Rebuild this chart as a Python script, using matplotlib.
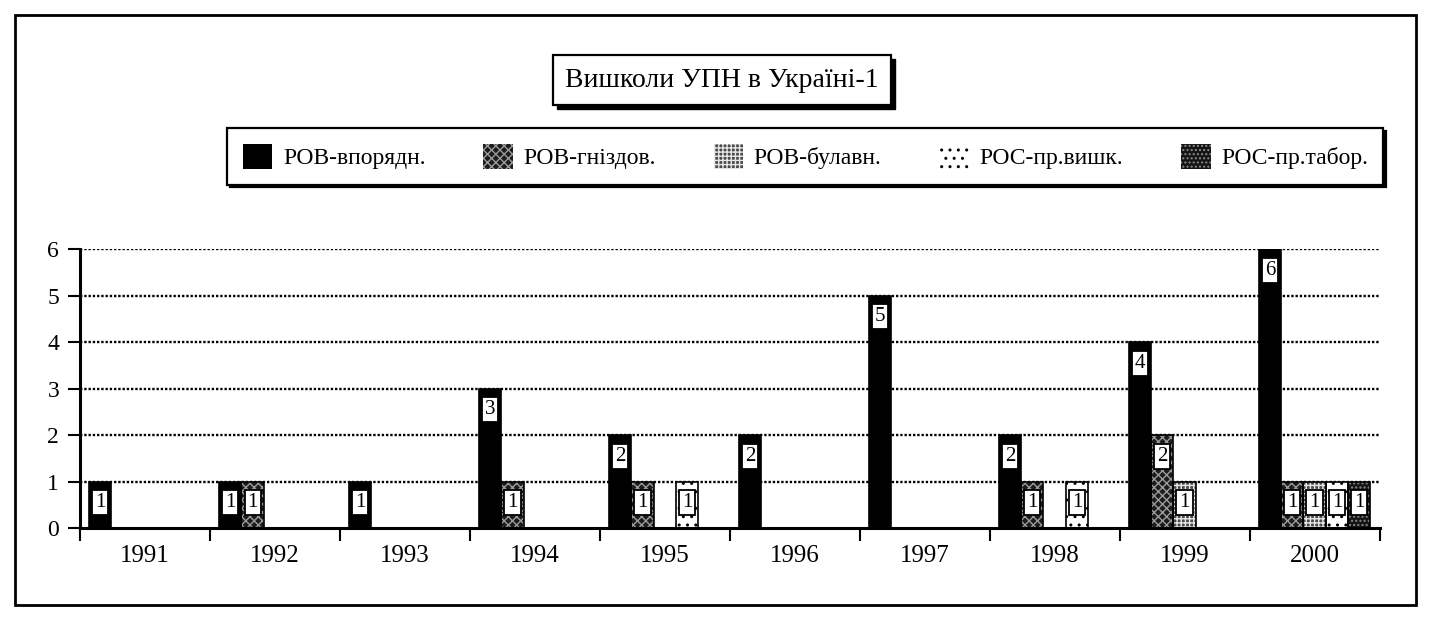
import numpy as np
import matplotlib
matplotlib.use("Agg")
import matplotlib.pyplot as plt
from matplotlib.patches import Rectangle, Patch

plt.rcParams['font.family'] = ['Liberation Serif', 'DejaVu Serif']
plt.rcParams['hatch.linewidth'] = 1.0

years = ["1991", "1992", "1993", "1994", "1995", "1996", "1997", "1998", "1999", "2000"]
series_names = ["РОВ-впорядн.", "РОВ-гніздов.", "РОВ-булавн.", "РОС-пр.вишк.", "РОС-пр.табор."]
vporyadn = [1, 1, 1, 3, 2, 2, 5, 2, 4, 6]
hnizdov = [0, 1, 0, 1, 1, 0, 0, 1, 2, 1]
bulavn = [0, 0, 0, 0, 0, 0, 0, 0, 1, 1]
pr_vyshk = [0, 0, 0, 0, 1, 0, 0, 1, 0, 1]
pr_tabor = [0, 0, 0, 0, 0, 0, 0, 0, 0, 1]
title_text = "Вишколи УПН в Україні-1"

values = [vporyadn, hnizdov, bulavn, pr_vyshk, pr_tabor]
styles = [
    dict(facecolor="black", edgecolor="black", hatch=None),
    dict(facecolor="#1c1c1c", edgecolor="#9a9a9a", hatch="xxxx"),
    dict(facecolor="#4a4a4a", edgecolor="#e6e6e6", hatch="++++"),
    dict(facecolor="white", edgecolor="black", hatch=".."),
    dict(facecolor="#141414", edgecolor="#8a8a8a", hatch="...."),
]

fig = plt.figure(figsize=(14.37, 6.31), dpi=100)
ax = fig.add_axes([0.0557, 0.163, 0.9043, 0.442])

x = np.arange(len(years))
n = len(values)
bw = 0.172
offsets = (np.arange(n) - (n - 1) / 2) * bw

for vals, st, off, name in zip(values, styles, offsets, series_names):
    v = np.array(vals, dtype=float)
    ax.bar(x + off, v, width=bw, color=st["facecolor"], edgecolor=st["edgecolor"],
           hatch=st["hatch"], linewidth=0, zorder=3, label=name)
    ax.bar(x + off, v, width=bw, fill=False, edgecolor="black", linewidth=1.2, zorder=4)
    for xi, vi in zip(x + off, v):
        if vi > 0:
            ax.text(xi, vi - 0.45, f"{int(vi)}", ha="center", va="center", fontsize=15,
                    zorder=6,
                    bbox=dict(boxstyle="square,pad=0.14", facecolor="white",
                              edgecolor="black", linewidth=1.3))

ax.set_xlim(-0.5, len(years) - 0.5)
ax.set_ylim(0, 6)
ax.set_yticks(range(0, 7))
ax.set_yticklabels([str(i) for i in range(0, 7)], fontsize=17)
ax.set_xticks(x)
ax.set_xticklabels(years, fontsize=18)
ax.set_xticks(np.arange(-0.5, len(years), 1), minor=True)
ax.tick_params(axis="x", which="major", length=0, pad=12)
ax.tick_params(axis="x", which="minor", length=9, width=1.5, direction="out")
ax.tick_params(axis="y", length=9, width=1.5, direction="out", pad=6)

for s in ["top", "right"]:
    ax.spines[s].set_visible(False)
for s in ["left", "bottom"]:
    ax.spines[s].set_linewidth(2.2)
ax.spines["bottom"].set_zorder(5)

for yv in range(1, 7):
    ax.axhline(yv, color="black", linestyle=(0, (1, 0.8)), linewidth=1.7, zorder=1)

# legend with a hard drop shadow
handles = [Patch(facecolor=st["facecolor"], edgecolor=st["edgecolor"], hatch=st["hatch"],
                 linewidth=0) for st in styles]
leg = fig.legend(handles, series_names, loc="center", bbox_to_anchor=(0.5605, 0.752),
                 ncol=5, fontsize=17, frameon=True, fancybox=False, edgecolor="black",
                 handlelength=1.25, handleheight=1.25, handletextpad=0.45, columnspacing=2.45,
                 borderpad=0.65, shadow={"color": "black", "alpha": 1.0})
leg.get_frame().set_linewidth(1.6)
leg.get_frame().set_facecolor("white")

# title in its own framed box
fig.text(0.5025, 0.873, title_text, ha="center", va="center", fontsize=20,
         bbox=dict(boxstyle="square,pad=0.45", facecolor="white", edgecolor="black",
                   linewidth=1.6), zorder=5)

fig.canvas.draw()
tb = fig.texts[0].get_bbox_patch().get_window_extent()
inv = fig.transFigure.inverted()
(x0, y0), (x1, y1) = inv.transform([[tb.x0, tb.y0], [tb.x1, tb.y1]])
dx, dy = 4 / fig.bbox.width, 4 / fig.bbox.height
fig.patches.append(Rectangle((x0 + dx, y0 - dy), x1 - x0, y1 - y0, transform=fig.transFigure,
                             facecolor="black", edgecolor="black", zorder=4))

# outer chart frame
fig.patches.append(Rectangle((0.0104, 0.041), 0.975, 0.935, transform=fig.transFigure,
                             fill=False, edgecolor="black", linewidth=2, zorder=0))

fig.savefig("out.png", dpi=100)
